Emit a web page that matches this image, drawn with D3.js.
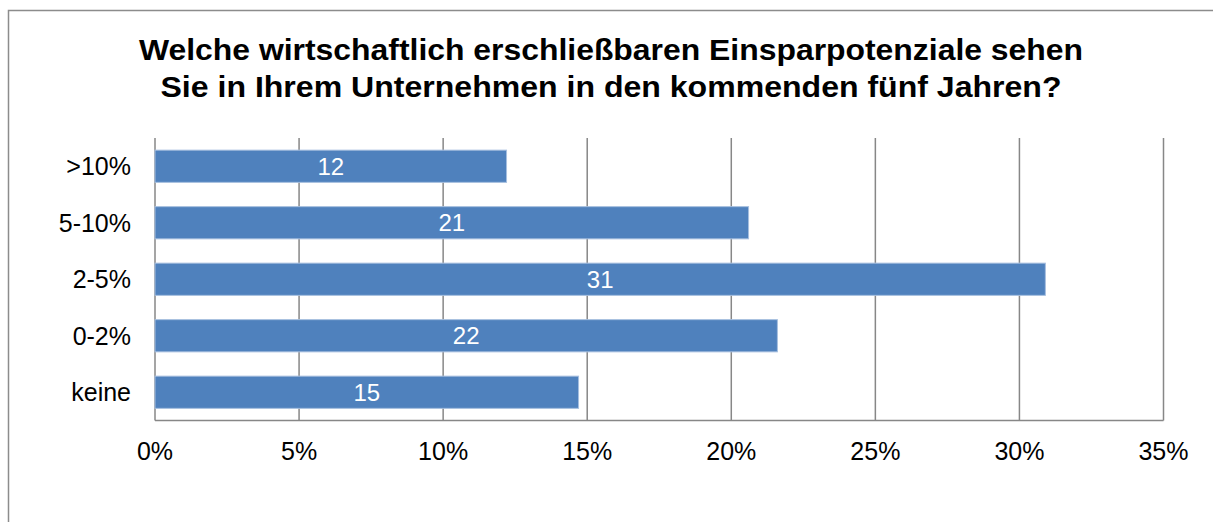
<!DOCTYPE html>
<html>
<head>
<meta charset="utf-8">
<script src="https://cdn.jsdelivr.net/npm/d3@7"></script>
<style>
  body { margin: 0; background: #fff; }
  svg { display: block; font-family: "Liberation Sans", Arial, sans-serif; }
</style>
</head>
<body>
<svg id="chart" width="1213" height="522"></svg>
<script>
// values (percent)
const categories = [">10%", "5-10%", "2-5%", "0-2%", "keine"];
const shares = [12.2, 20.6, 30.9, 21.6, 14.7];
const barLabels = ["12", "21", "31", "22", "15"];
const ticks = [0, 5, 10, 15, 20, 25, 30, 35];
const titleLines = [
    "Welche wirtschaftlich erschließbaren Einsparpotenziale sehen",
    "Sie in Ihrem Unternehmen in den kommenden fünf Jahren?"
];

const svg = d3.select("#chart");
const plotL = 155, plotR = 1163.5, plotT = 138, plotB = 420.5;

// outer frame, runs off the right and bottom edge like the original
svg.append("rect").attr("x", 8.5).attr("y", 10.5).attr("width", 1230).attr("height", 540)
    .attr("fill", "none").attr("stroke", "#8c8c8c").attr("stroke-width", 1.5);

// title is a bit wider than Liberation renders it, so stretch to the measured width
const titleWidths = [944, 901];
svg.selectAll(".title").data(titleLines).join("text").attr("class", "title")
    .attr("x", 611).attr("y", (d, i) => 60 + i * 36.5)
    .attr("text-anchor", "middle").attr("font-size", 30).attr("font-weight", "bold")
    .attr("textLength", (d, i) => titleWidths[i]).attr("lengthAdjust", "spacingAndGlyphs")
    .attr("fill", "#000").text(d => d);

const x = d3.scaleLinear().domain([0, 35]).range([plotL, plotR]);
const y = d3.scaleBand().domain(categories).range([plotT, plotB]).paddingInner(0.43).paddingOuter(0.215);

// gridlines
svg.selectAll(".grid").data(ticks).join("line").attr("class", "grid")
    .attr("x1", d => x(d)).attr("x2", d => x(d)).attr("y1", plotT).attr("y2", plotB)
    .attr("stroke", "#878787").attr("stroke-width", 1.5);
svg.append("line").attr("x1", plotL).attr("x2", plotR).attr("y1", plotB).attr("y2", plotB)
    .attr("stroke", "#878787").attr("stroke-width", 1.5);

// bars
svg.selectAll(".bar").data(shares).join("rect").attr("class", "bar")
    .attr("x", x(0)).attr("y", (d, i) => y(categories[i]))
    .attr("width", d => x(d) - x(0)).attr("height", y.bandwidth())
    .attr("fill", "#4f81bd").attr("stroke", "#a7bfdf").attr("stroke-width", 1);

svg.selectAll(".val").data(shares).join("text").attr("class", "val")
    .attr("x", d => (x(0) + x(d)) / 2)
    .attr("y", (d, i) => y(categories[i]) + y.bandwidth() / 2)
    .attr("dy", "0.36em").attr("text-anchor", "middle").attr("font-size", 24)
    .attr("fill", "#fff").text((d, i) => barLabels[i]);

// category labels
svg.selectAll(".cat").data(categories).join("text").attr("class", "cat")
    .attr("x", 131).attr("y", d => y(d) + y.bandwidth() / 2)
    .attr("dy", "0.36em").attr("text-anchor", "end").attr("font-size", 25)
    .attr("fill", "#000").text(d => d);

// x tick labels
svg.selectAll(".tick").data(ticks).join("text").attr("class", "tick")
    .attr("x", d => x(d)).attr("y", 460)
    .attr("text-anchor", "middle").attr("font-size", 25)
    .attr("fill", "#000").text(d => d + "%");
</script>
</body>
</html>
